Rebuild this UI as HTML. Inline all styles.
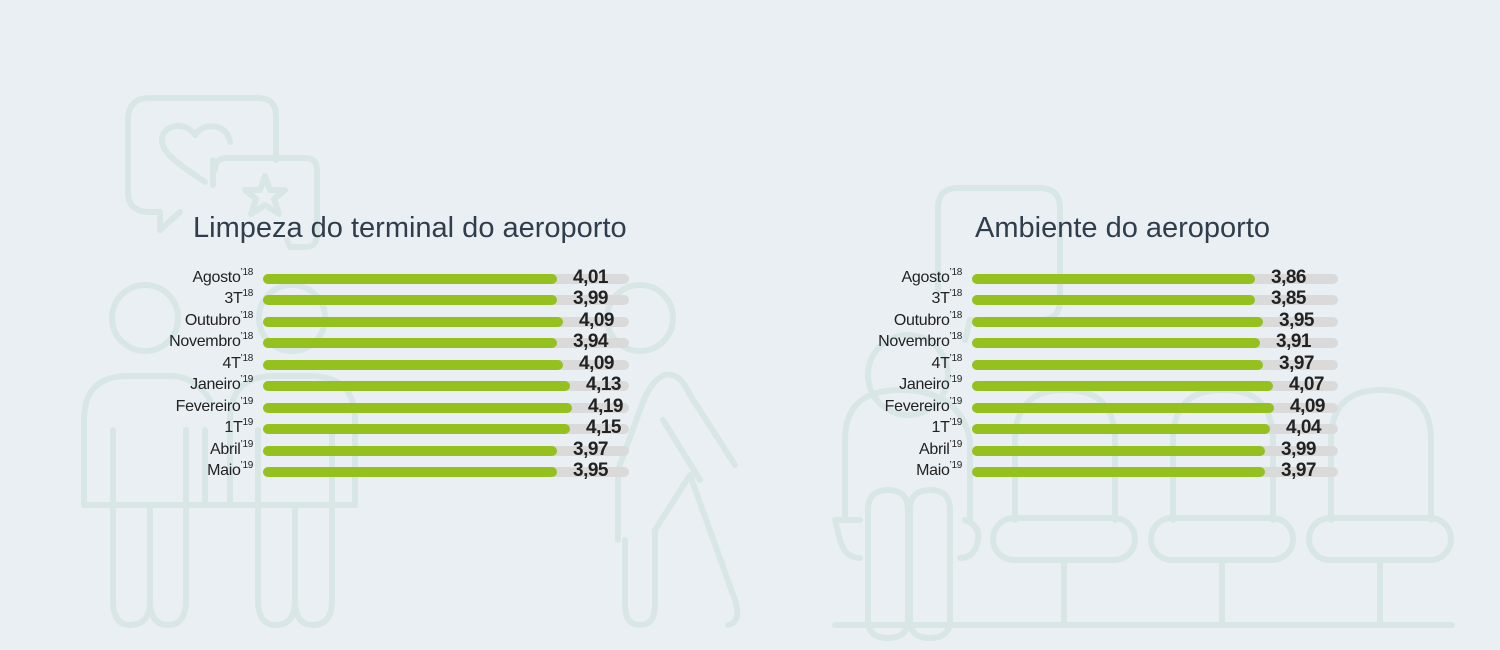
<!DOCTYPE html>
<html><head><meta charset="utf-8"><style>
body{margin:0;width:1500px;height:650px;background:#eaeff3;overflow:hidden;position:relative;font-family:"Liberation Sans",sans-serif}
svg{position:absolute;left:0;top:0}
.t{position:absolute;font-family:"Liberation Sans",sans-serif;font-size:29px;color:#2f3d4c;font-weight:300;white-space:nowrap}
.lab{position:absolute;font-size:16px;color:#222;text-align:right;width:200px;white-space:nowrap;line-height:18px;letter-spacing:-0.3px}
.lab sup{font-size:10px;vertical-align:7px;line-height:0}
.trk{position:absolute;height:10px;border-radius:5px;background:#dadada}
.g{position:absolute;height:10px;border-radius:5px;background:#95c11f}
.v{position:absolute;font-size:19px;font-weight:bold;color:#222;line-height:20px;letter-spacing:-0.5px}
</style></head><body>
<svg width="1500" height="650" fill="none" stroke="#d8e7e6" stroke-width="6" stroke-linecap="round" stroke-linejoin="round">
<path d="M150,98 H258 Q276,98 276,116 V160 M213,160 V185 M150,98 Q128,98 128,120 V192 Q128,212 150,212 H160 V230 L180,212"/>
<path d="M215,170 Q215,158 227,158 H305 Q317,158 317,170 V235 Q317,247 305,247 H290 L287,240"/>
<path d="M205,182 C185,168 162,155 162,140 C162,125 185,120 195,135 C205,120 228,125 230,142"/>
<path d="M265,176 L270,190 L285,190 L274,199 L279,214 L265,205 L251,214 L256,199 L245,190 L260,190 Z"/>
<circle cx="145" cy="318" r="33"/><circle cx="292" cy="318" r="33"/>
<path d="M84,505 V420 Q84,376 128,376 H170 Q195,376 210,400 M205,505 V430 M113,430 V600 Q113,625 130,625 Q150,625 150,600 V505 M150,505 V600 Q150,625 168,625 Q186,625 186,600 V430"/>
<path d="M230,505 V420 Q230,376 274,376 H310 Q355,376 355,420 V505 H84 M258,430 V600 Q258,625 276,625 Q295,625 295,600 V505 M295,600 Q295,625 313,625 Q332,625 332,600 V430"/>
<circle cx="640" cy="318" r="33"/>
<path d="M618,540 V470 L640,410 Q650,380 665,375 Q680,372 690,395 L735,465 M663,420 L700,480 M625,540 V605 Q625,625 640,625 Q655,625 655,605 V530 L690,475 L735,600 Q742,622 728,625"/>
<path d="M958,188 H1040 Q1060,188 1060,208 V300 Q1060,320 1040,320 H970 L965,340 M958,188 Q938,188 938,208 V290"/>
<circle cx="908" cy="375" r="40"/>
<path d="M845,520 V440 Q845,390 900,390 Q960,390 970,440 V520"/>
<path d="M860,520 H835 Q835,520 840,540 Q845,558 860,558 M965,520 Q980,525 978,540 Q975,558 960,558"/>
<path d="M868,510 Q868,490 888,490 Q908,490 908,510 V620 Q908,638 888,638 Q868,638 868,620 Z M910,510 Q910,490 930,490 Q950,490 950,510 V620 Q950,638 930,638 Q910,638 910,620 Z"/>
<path d="M1015,520 V440 Q1015,390 1065,390 Q1115,390 1115,440 V520 M1173,520 V440 Q1173,390 1223,390 Q1273,390 1273,440 V520 M1331,520 V440 Q1331,390 1381,390 Q1431,390 1431,440 V520"/>
<rect x="993" y="518" width="142" height="42" rx="21"/><rect x="1151" y="518" width="142" height="42" rx="21"/><rect x="1309" y="518" width="142" height="42" rx="21"/>
<path d="M1064,560 V625 M1222,560 V625 M1380,560 V625 M835,625 H1452"/>
</svg>
<div class="t" style="left:193px;top:212px">Limpeza do terminal do aeroporto</div>
<div class="t" style="left:975px;top:212px">Ambiente do aeroporto</div>
<div id="c"></div>
<script>
var L=[["Agosto","’18",4.01,557],["3T","18",3.99,557],["Outubro","’18",4.09,563],["Novembro","’18",3.94,557],["4T","’18",4.09,563],["Janeiro","’19",4.13,570],["Fevereiro","’19",4.19,572],["1T","19",4.15,570],["Abril","’19",3.97,557],["Maio","’19",3.95,557]];
var R=[["Agosto","’18",3.86,1255],["3T","’18",3.85,1255],["Outubro","’18",3.95,1263],["Novembro","’18",3.91,1260],["4T","’18",3.97,1263],["Janeiro","’19",4.07,1273],["Fevereiro","’19",4.09,1274],["1T","’19",4.04,1270],["Abril","’19",3.99,1265],["Maio","’19",3.97,1265]];
var ys=[279,300,322,343,365,386,408,429,451,472],h="";
function draw(D,x0,x1){D.forEach(function(d,i){var y=ys[i];
h+='<div class="lab" style="left:'+(x0-210)+'px;top:'+(y-10)+'px">'+d[0]+'<sup>'+d[1]+'</sup></div>';
h+='<div class="trk" style="left:'+x0+'px;top:'+(y-5)+'px;width:'+(x1-x0)+'px"></div>';
h+='<div class="g" style="left:'+x0+'px;top:'+(y-5)+'px;width:'+(d[3]-x0)+'px"></div>';
h+='<div class="v" style="left:'+(d[3]+16)+'px;top:'+(y-11)+'px">'+d[2].toFixed(2).replace(".",",")+'</div>';});}
draw(L,263,629);draw(R,972,1338);
document.getElementById("c").innerHTML=h;
</script>
</body></html>
